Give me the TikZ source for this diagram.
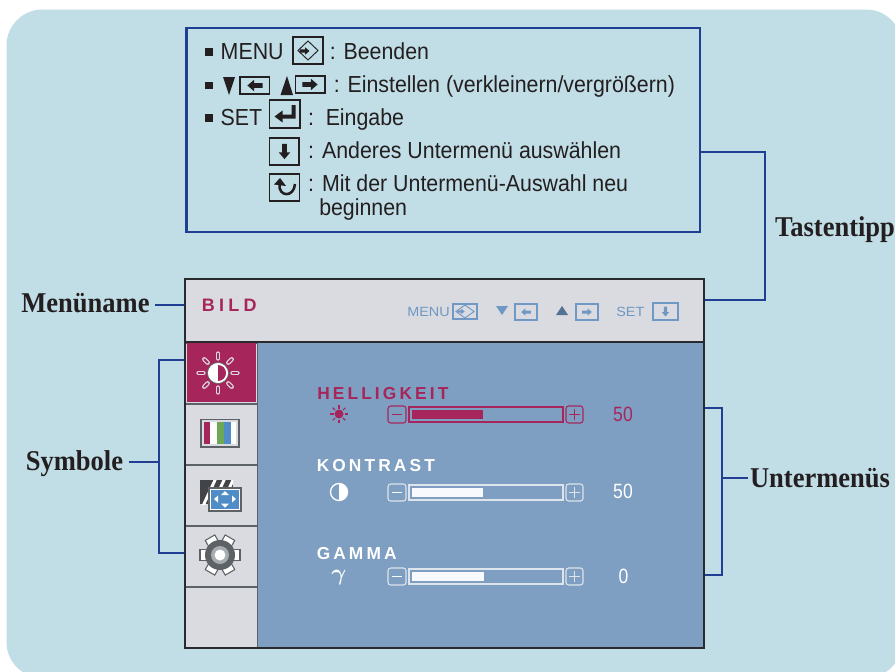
\documentclass[tikz,border=0pt]{standalone}
\usepackage{fontspec}
\setmainfont{Liberation Sans}
\newfontfamily\headfont{Liberation Serif}[Scale=1]
\newfontfamily\capsfont{Liberation Sans}[LetterSpace=18]
\definecolor{sheetblue}{RGB}{193,221,230}
\definecolor{leaderblue}{RGB}{32,62,148}
\definecolor{panelgrey}{RGB}{218,219,224}
\definecolor{steelblue}{RGB}{126,159,193}
\definecolor{keyblue}{RGB}{112,152,196}
\definecolor{crimson}{RGB}{166,38,91}
\definecolor{framedark}{RGB}{40,42,45}
\definecolor{tabline}{RGB}{92,98,102}
\definecolor{inktext}{RGB}{35,31,32}
\definecolor{icongreen}{RGB}{110,168,84}
\definecolor{iconblue}{RGB}{80,140,198}
\definecolor{barwhite}{RGB}{247,249,252}
\definecolor{barframe}{RGB}{222,228,236}
\tikzset{
  leader/.style={color=leaderblue,line width=2pt,line join=miter},
  tiptext/.style={anchor=base west,inner sep=0pt,text=inktext,font=\fontsize{17.4}{20}\selectfont,xscale=0.92},
  boldlabel/.style={anchor=base,inner sep=0pt,outer xsep=4.5pt,text=inktext,font=\headfont\bfseries\fontsize{21.5}{24}\selectfont,xscale=0.925},
  capstext/.style={anchor=base west,inner sep=0pt,font=\capsfont\bfseries\fontsize{13}{15}\selectfont},
  keyframe/.style={draw=inktext,line width=0.8pt},
  hintframe/.style={draw=keyblue,line width=0.8pt},
  hinttext/.style={anchor=base west,inner sep=0pt,text=keyblue,font=\fontsize{10}{12}\selectfont,xscale=1.08},
  valtext/.style={anchor=base,inner sep=0pt,font=\fontsize{15.5}{17}\selectfont,xscale=0.85},
  sidetab/.style={draw=tabline,line width=1.3pt,fill=panelgrey,anchor=north west,inner sep=0pt,minimum width=54pt,minimum height=45.75pt},
  pics/keyarrow/.style={code={
    \fill[pic actions] (8,0) -- (1,-6) -- (1,-2.5) -- (-8,-2.5) -- (-8,2.5) -- (1,2.5) -- (1,6) -- cycle;
  }}
}
% one slider row: #1 top, #2 frame colour, #3 bar colour, #4 bar end
\newcommand{\sliderrow}[4]{
  \draw[#2,line width=0.8pt,rounded corners=2pt] (388,#1) rectangle (406,#1+17);
  \draw[#3,line width=1pt] (392,#1+8.5) -- (402,#1+8.5);
  \draw[#2,line width=0.9pt] (409,#1+1) rectangle (563,#1+16);
  \fill[#3] (412,#1+4) rectangle (#4,#1+13);
  \draw[#2,line width=0.8pt,rounded corners=2pt] (566,#1) rectangle (583,#1+17);
  \draw[#2,line width=0.8pt] (569,#1+8.5) -- (580,#1+8.5) (574.5,#1+3) -- (574.5,#1+14);
}
\begin{document}
\begin{tikzpicture}[x=0.75pt,y=0.75pt,yscale=-1,xscale=1]
\useasboundingbox (0,0) rectangle (895,671);

%Sheet
\fill[sheetblue,rounded corners=27pt] (6.5,9.5) rectangle (902,678);

%Hint box
\node[draw=leaderblue,line width=2pt,anchor=north west,inner sep=0pt,minimum width=385pt,minimum height=153pt] (tipbox) at (185.2,26.7) {};

%Monitor parts
\fill[panelgrey] (185,279) rectangle (704,342);
\fill[steelblue] (257,342) rectangle (704,648);
\foreach \i/\y in {1/342,2/403,3/464,4/525,5/586}
  \node[sidetab] (tab\i) at (184.5,\y) {};
\fill[crimson] (186.5,343) rectangle (256,402);
\draw[framedark,line width=1pt] (185,342) -- (704,342);
\draw[framedark,line width=2pt] (185,279) -- (704,279);
\node[draw=framedark,line width=1.5pt,anchor=north west,inner sep=0pt,minimum width=389.25pt,minimum height=276.75pt] (monitor) at (184,278) {};

% Text Node
\foreach \y in {52,85.5,118}
  \fill[inktext] (205,\y-3.7) rectangle (212.6,\y+3.7);
\node[tiptext] (tipMenu) at (220.5,59) {MENU};
\node[tiptext] (tipQuit) at (329.5,59) {: Beenden};
\node[tiptext] (tipAdjust) at (333.5,92) {: Einstellen (verkleinern/vergrößern)};
\node[tiptext] (tipSet) at (220.5,125) {SET};
\node[tiptext] (tipEnter) at (308,125) {:};
\node[tiptext] (tipInput) at (325.5,125) {Eingabe};
\node[tiptext] (tipOther) at (308,158) {: Anderes Untermenü auswählen};
\node[tiptext] (tipRestart) at (308,191) {: Mit der Untermenü-Auswahl neu};
\node[tiptext] (tipBegin) at (319,215) {beginnen};

%Tip keys
\draw[keyframe] (293,37) rectangle (323,64);
\draw[inktext,line width=0.7pt] (308,41) -- (318,50.5) -- (308,60) -- (298,50.5) -- cycle;
\pic[fill=inktext,scale=0.62] at (304.5,51) {keyarrow};
\fill[inktext] (223,77) -- (235,77) -- (229,95) -- cycle;
\draw[keyframe] (240,77) rectangle (269.5,94);
\pic[fill=inktext,scale=0.95] at (255,85.5) [rotate=180] {keyarrow};
\fill[inktext] (280.5,95) -- (293,95) -- (287,76) -- cycle;
\draw[keyframe] (295.5,76) rectangle (325,93);
\pic[fill=inktext,scale=0.95] at (310,84.5) {keyarrow};
\draw[keyframe,line width=1pt] (269.5,100) rectangle (300,128);
\fill[inktext] (274.5,116.5) -- (282.5,110.5) -- (282.5,114.5) -- (291.5,114.5) -- (291.5,105) -- (295.5,105) -- (295.5,118.5) -- (282.5,118.5) -- (282.5,122.5) -- cycle;
\draw[keyframe,line width=1pt] (269.5,138) rectangle (299,165);
\pic[fill=inktext,scale=0.95] at (284.5,151.5) [rotate=-90] {keyarrow};
\draw[keyframe,line width=1pt] (269.5,174) rectangle (299.5,201);
\draw[inktext,line width=1.9pt] (279.5,184) .. controls (278,197) and (294,198) .. (295,184);
\fill[inktext] (274,184.5) -- (280,178) -- (286,186) -- cycle;

%Header row
\node[capstext,text=crimson,font=\capsfont\addfontfeature{LetterSpace=24}\bfseries\fontsize{13.5}{15}\selectfont] (menuTitle) at (201.5,311) {BILD};
\node[hinttext] (hintMenu) at (407,316) {MENU};
\draw[hintframe] (453,304) rectangle (477,319);
\draw[keyblue,line width=0.7pt] (465,305) -- (474,311.5) -- (465,318) -- (456,311.5) -- cycle;
\pic[fill=keyblue,scale=0.45] at (461,311.5) {keyarrow};
\fill[keyblue] (496,306) -- (508,306) -- (502,315) -- cycle;
\draw[hintframe] (515,304) rectangle (537,320);
\pic[fill=keyblue,scale=0.6] at (526,312) [rotate=180] {keyarrow};
\fill[keyblue!75!black] (556,315) -- (568,315) -- (562,306) -- cycle;
\draw[hintframe] (576,304) rectangle (598,320);
\pic[fill=keyblue,scale=0.6] at (587,312) {keyarrow};
\node[hinttext] (hintSet) at (616,316) {SET};
\draw[hintframe] (653,303) rectangle (678,320);
\pic[fill=keyblue,scale=0.62] at (665.5,311.5) [rotate=-90] {keyarrow};

%Side icons
\foreach \a in {0,45,...,315}{
  \draw[panelgrey,line width=3.2pt,line cap=round] (218,373) ++(\a:14.5) -- ++(\a:5);
  \draw[crimson,line width=1.4pt,line cap=round] (218,373) ++(\a:14.5) -- ++(\a:5);
}
\fill[white] (218,373) circle [radius=10.5];
\fill[crimson] (218,365) arc [start angle=-90,end angle=90,radius=8] -- cycle;
\draw[tabline,line width=0.5pt] (218,373) circle [radius=10.5];

\draw[tabline,fill=panelgrey,line width=1pt] (201,419.5) rectangle (239,447);
\fill[white] (204,422) rectangle (236,444);
\fill[crimson] (204,422) rectangle (210,444);
\fill[icongreen] (216.5,422) rectangle (224,444);
\fill[iconblue] (224,422) rectangle (231,444);

\fill[tabline!70!black] (200,480) rectangle (233,504);
\begin{scope}
  \clip (200,480) rectangle (233,504);
  \foreach \x in {203,212,221,230}
    \draw[white,line width=2.2pt] (\x,506) -- (\x+13,478);
\end{scope}
\draw[tabline,fill=iconblue,line width=1pt] (209,488) rectangle (241,511);
\draw[white,line width=0.7pt] (210.5,489.5) rectangle (239.5,509.5);
\fill[white] (225,491) -- (221,495) -- (229,495) -- cycle (225,507.5) -- (221,503.5) -- (229,503.5) -- cycle
  (214,499) -- (218,495.5) -- (218,502.5) -- cycle (236,499) -- (232,495.5) -- (232,502.5) -- cycle;

\foreach \a in {0,60,...,300}
  \draw[tabline,fill=white,line width=0.8pt,rotate around={\a:(220,555)}] (232,549.5) rectangle (240,560.5);
\fill[tabline] (220,555) circle [radius=15];
\fill[panelgrey!60!tabline] (220,555) circle [radius=9];
\fill[white] (220,555) circle [radius=5.5];

%Sub menu rows
\node[capstext,text=crimson] (subBright) at (317,399) {HELLIGKEIT};
\sliderrow{406}{crimson}{crimson}{483}
\fill[crimson] (339,414) circle [radius=4.5];
\foreach \a in {0,45,...,315}
  \draw[crimson,line width=0.8pt] (339,414) ++(\a:5.5) -- ++(\a:3.5);
\node[valtext,text=crimson] (valBright) at (623,421) {50};

\node[capstext,text=white] (subContrast) at (316.5,471) {KONTRAST};
\sliderrow{484}{barframe}{barwhite}{483}
\fill[white] (339,483.5) arc [start angle=-90,end angle=90,radius=8.5] -- cycle;
\draw[white,line width=1pt] (339,492) circle [radius=8.5];
\node[valtext,text=white] (valContrast) at (623,498) {50};

\node[capstext,text=white] (subGamma) at (316.5,559) {GAMMA};
\sliderrow{568}{barframe}{barwhite}{484}
\node[anchor=center,inner sep=0pt,text=white,font=\fontsize{16}{18}\selectfont\boldmath] (gammaMark) at (339,578) {$\gamma$};
\node[valtext,text=white] (valGamma) at (623.5,583) {0};

% Text Node
\node[boldlabel] (lblMenu) at (85.5,312) {Menüname};
\node[boldlabel] (lblSymbol) at (74.5,470) {Symbole};
\node[boldlabel] (lblTip) at (835,236) {Tastentipp};
\node[boldlabel,outer xsep=1.5pt] (lblSub) at (820,487.5) {Untermenüs};

%Leaders
\coordinate (menuMid) at (150,305);
\draw[leader] (lblMenu.east |- menuMid) -- (monitor.west |- menuMid);
\coordinate (symTop) at (159,360);
\coordinate (symBottom) at (159,553);
\coordinate (symMid) at (159,462);
\draw[leader] (monitor.west |- symTop) -- (symTop) -- (symBottom) -- (monitor.west |- symBottom);
\draw[leader] (lblSymbol.east |- symMid) -- (symMid);
\coordinate (tipTop) at (765,152);
\coordinate (tipBottom) at (765,300);
\draw[leader] (tipbox.east |- tipTop) -- (tipTop) -- (tipBottom) -- (monitor.east |- tipBottom);
\coordinate (subTop) at (722,408);
\coordinate (subBottom) at (722,575);
\coordinate (subMid) at (722,478);
\draw[leader] (monitor.east |- subTop) -- (subTop) -- (subBottom) -- (monitor.east |- subBottom);
\draw[leader] (subMid) -- (lblSub.west |- subMid);
\end{tikzpicture}
\end{document}
